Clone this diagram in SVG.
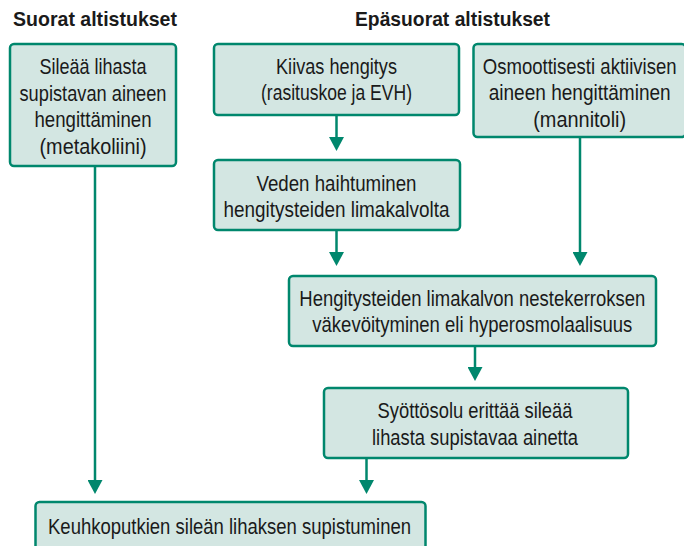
<svg xmlns="http://www.w3.org/2000/svg" width="684" height="546" viewBox="0 0 684 546">
<defs>
<style>
.box{fill:#d3e6e2;stroke:#00876d;stroke-width:2.5}
.t{font-family:"Liberation Sans",Arial,sans-serif;font-size:22px;fill:#1a1a1a;text-anchor:middle}
.h{font-family:"Liberation Sans",Arial,sans-serif;font-size:21px;font-weight:bold;fill:#1a1a1a}
.c{stroke:#00876d;stroke-width:2.5;fill:none;marker-end:url(#arr)}
</style>
<marker id="arr" markerUnits="userSpaceOnUse" markerWidth="15" markerHeight="15" refX="8" refY="7.5" orient="auto" viewBox="0 0 15 15">
<path d="M0,0 L14,7.5 L0,15 z" fill="#00876d"/>
</marker>
</defs>
<rect width="684" height="546" fill="#ffffff"/>
<text class="h" x="13" y="26" textLength="164" lengthAdjust="spacingAndGlyphs">Suorat altistukset</text>
<text class="h" x="355" y="26" textLength="195" lengthAdjust="spacingAndGlyphs">Epäsuorat altistukset</text>
<g id="connectors">
<line class="c" x1="95" y1="167" x2="95" y2="488"/>
<line class="c" x1="336.5" y1="116" x2="336.5" y2="145"/>
<line class="c" x1="336.5" y1="231" x2="336.5" y2="260"/>
<line class="c" x1="580" y1="138" x2="580" y2="260"/>
<line class="c" x1="475" y1="347" x2="475" y2="375"/>
<line class="c" x1="366.5" y1="459" x2="366.5" y2="488"/>
</g>
<g id="n1">
<rect class="box" x="10" y="44" width="166" height="122" rx="4"/>
<text class="t" x="93" y="74" textLength="107" lengthAdjust="spacingAndGlyphs">Sileää lihasta</text>
<text class="t" x="93" y="100.5" textLength="147" lengthAdjust="spacingAndGlyphs">supistavan aineen</text>
<text class="t" x="93" y="127" textLength="117" lengthAdjust="spacingAndGlyphs">hengittäminen</text>
<text class="t" x="93" y="153.5" textLength="107" lengthAdjust="spacingAndGlyphs">(metakoliini)</text>
</g>
<g id="n2">
<rect class="box" x="214" y="44" width="245" height="71" rx="4"/>
<text class="t" x="336.5" y="73.5" textLength="121" lengthAdjust="spacingAndGlyphs">Kiivas hengitys</text>
<text class="t" x="336.5" y="100.2" textLength="151" lengthAdjust="spacingAndGlyphs">(rasituskoe ja EVH)</text>
</g>
<g id="n3">
<rect class="box" x="214" y="160" width="246" height="70" rx="4"/>
<text class="t" x="336.5" y="191.3" textLength="160" lengthAdjust="spacingAndGlyphs">Veden haihtuminen</text>
<text class="t" x="336.5" y="216.8" textLength="226" lengthAdjust="spacingAndGlyphs">hengitysteiden limakalvolta</text>
</g>
<g id="n4">
<rect class="box" x="473.5" y="44" width="212" height="93" rx="4"/>
<text class="t" x="579.7" y="73.5" textLength="194" lengthAdjust="spacingAndGlyphs">Osmoottisesti aktiivisen</text>
<text class="t" x="579.7" y="100.2" textLength="182" lengthAdjust="spacingAndGlyphs">aineen hengittäminen</text>
<text class="t" x="579.7" y="126.8" textLength="93" lengthAdjust="spacingAndGlyphs">(mannitoli)</text>
</g>
<g id="n5">
<rect class="box" x="289" y="276" width="367" height="70" rx="4"/>
<text class="t" x="472.3" y="305.5" textLength="346" lengthAdjust="spacingAndGlyphs">Hengitysteiden limakalvon nestekerroksen</text>
<text class="t" x="472.3" y="331.5" textLength="320" lengthAdjust="spacingAndGlyphs">väkevöityminen eli hyperosmolaalisuus</text>
</g>
<g id="n6">
<rect class="box" x="324" y="388" width="304" height="70" rx="4"/>
<text class="t" x="475" y="418.3" textLength="195" lengthAdjust="spacingAndGlyphs">Syöttösolu erittää sileää</text>
<text class="t" x="475" y="445" textLength="206" lengthAdjust="spacingAndGlyphs">lihasta supistavaa ainetta</text>
</g>
<g id="n7">
<rect class="box" x="35.5" y="502" width="390" height="60" rx="4"/>
<text class="t" x="229.5" y="534" textLength="363" lengthAdjust="spacingAndGlyphs">Keuhkoputkien sileän lihaksen supistuminen</text>
</g>
</svg>
